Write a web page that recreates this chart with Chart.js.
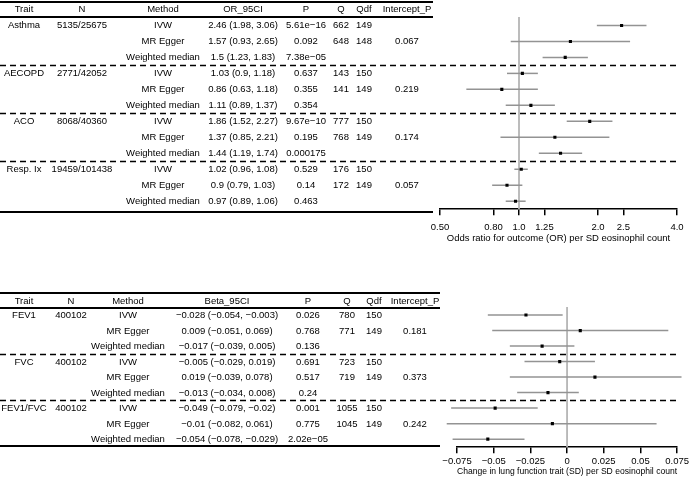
<!DOCTYPE html>
<html>
<head>
<meta charset="utf-8">
<script src="https://cdn.jsdelivr.net/npm/chart.js@4"></script>
<style>
  body { margin: 0; background: #fff; }
  #wrap { position: relative; width: 691px; height: 479px; overflow: hidden;
          font-family: "Liberation Sans", Arial, sans-serif; font-size: 9.5px; color: #000; }
  canvas { position: absolute; left: 0; }
  .c { position: absolute; white-space: nowrap; line-height: 1; transform: translate(-50%, -50%); }
  .rule { position: absolute; left: 0; background: #000; }
</style>
</head>
<body>
<div id="wrap">
  <canvas id="topChart" width="691" height="250" style="top:0"></canvas>
  <canvas id="botChart" width="691" height="229" style="top:250px"></canvas>
</div>
<script>
// ---- top panel: respiratory outcomes (OR) ----
const respTraits = ['Asthma', 'AECOPD', 'ACO', 'Resp. Ix']
const respN = ['5135/25675', '2771/42052', '8068/40360', '19459/101438']
const methods = ['IVW', 'MR Egger', 'Weighted median']
const orEst = [2.46, 1.57, 1.5, 1.03, 0.86, 1.11, 1.86, 1.37, 1.44, 1.02, 0.9, 0.97]
const orLo = [1.98, 0.93, 1.23, 0.9, 0.63, 0.89, 1.52, 0.85, 1.19, 0.96, 0.79, 0.89]
const orHi = [3.06, 2.65, 1.83, 1.18, 1.18, 1.37, 2.27, 2.21, 1.74, 1.08, 1.03, 1.06]
const orP = ['5.61e\u221216', '0.092', '7.38e\u221205', '0.637', '0.355', '0.354',
             '9.67e\u221210', '0.195', '0.000175', '0.529', '0.14', '0.463']
const orQ = [662, 648, '', 143, 141, '', 777, 768, '', 176, 172, '']
const orQdf = [149, 148, '', 150, 149, '', 150, 149, '', 150, 149, '']
const orInt = ['', '0.067', '', '', '0.219', '', '', '0.174', '', '', '0.057', '']
const orTicks = [0.5, 0.8, 1.0, 1.25, 2.0, 2.5, 4.0]
const orTickLabels = ['0.50', '0.80', '1.0', '1.25', '2.0', '2.5', '4.0']

// ---- bottom panel: lung function (beta) ----
const lungTraits = ['FEV1', 'FVC', 'FEV1/FVC']
const lungN = ['400102', '400102', '400102']
const betaEst = [-0.028, 0.009, -0.017, -0.005, 0.019, -0.013, -0.049, -0.01, -0.054]
const betaLo = [-0.054, -0.051, -0.039, -0.029, -0.039, -0.034, -0.079, -0.082, -0.078]
const betaHi = [-0.003, 0.069, 0.005, 0.019, 0.078, 0.008, -0.02, 0.061, -0.029]
const betaP = ['0.026', '0.768', '0.136', '0.691', '0.517', '0.24', '0.001', '0.775', '2.02e\u221205']
const betaQ = [780, 771, '', 723, 719, '', 1055, 1045, '']
const betaQdf = [150, 149, '', 150, 149, '', 150, 149, '']
const betaInt = ['', '0.181', '', '', '0.373', '', '', '0.242', '']
const betaTicks = [-0.075, -0.05, -0.025, 0, 0.025, 0.05, 0.075]
const betaTickLabels = ['\u22120.075', '\u22120.05', '\u22120.025', '0', '0.025', '0.05', '0.075']

const FONT = { family: '"Liberation Sans", Arial, sans-serif', size: 9.5 }
const minus = s => String(s).replace(/-/g, '\u2212')

// CI whiskers, reference line and group separators drawn from the scales
const forestPlugin = {
  id: 'forest',
  beforeDatasetsDraw(chart, args, opts) {
    const { ctx, chartArea, scales: { x, y } } = chart
    ctx.save()
    ctx.strokeStyle = '#b5b5b5'
    ctx.lineWidth = 1.8
    const rx = x.getPixelForValue(opts.ref)
    ctx.beginPath(); ctx.moveTo(rx, chartArea.top); ctx.lineTo(rx, chartArea.bottom); ctx.stroke()
    ctx.strokeStyle = '#939393'
    ctx.lineWidth = 1.5
    opts.lo.forEach((lo, i) => {
      const yy = y.getPixelForValue(i)
      ctx.beginPath()
      ctx.moveTo(x.getPixelForValue(lo), yy)
      ctx.lineTo(x.getPixelForValue(opts.hi[i]), yy)
      ctx.stroke()
    })
    ctx.strokeStyle = '#000'
    ctx.lineWidth = 1.5
    ctx.setLineDash([6, 4])
    opts.seps.forEach(v => {
      const yy = Math.round(y.getPixelForValue(v)) + 0.5
      ctx.beginPath(); ctx.moveTo(0, yy); ctx.lineTo(chartArea.right, yy); ctx.stroke()
    })
    ctx.restore()
  }
}

function makeForest(id, o) {
  return new Chart(document.getElementById(id), {
    type: 'scatter',
    data: {
      datasets: [{
        data: o.est.map((v, i) => ({ x: v, y: i })),
        pointStyle: 'rect',
        pointRadius: 2.2,
        backgroundColor: '#000',
        borderWidth: 0
      }]
    },
    options: {
      responsive: false,
      animation: false,
      events: [],
      layout: { padding: o.padding },
      plugins: {
        legend: { display: false },
        tooltip: { enabled: false },
        forest: { ref: o.ref, lo: o.lo, hi: o.hi, seps: o.seps }
      },
      scales: {
        x: {
          type: o.type,
          min: o.min,
          max: o.max,
          afterBuildTicks: s => { s.ticks = o.ticks.map(v => ({ value: v })) },
          border: { display: true, color: '#000', width: 1.5 },
          grid: { drawOnChartArea: false, drawTicks: true, tickLength: 6, color: '#000', lineWidth: 1.5 },
          ticks: {
            color: '#000', font: FONT, padding: o.tickPad, maxRotation: 0, autoSkip: false,
            callback: (v, i) => o.tickLabels[i]
          },
          title: { display: true, text: o.title, color: '#000', font: FONT, padding: { top: o.titlePad, bottom: 0 } }
        },
        y: { type: 'linear', reverse: true, min: o.ymin, max: o.ymax, display: false }
      }
    },
    plugins: [forestPlugin]
  })
}

function buildTable(chart, top, cols, headers, rows, hy, rules, ruleW) {
  const wrap = document.getElementById('wrap')
  const put = (txt, x, y) => {
    if (txt === '' || txt === undefined) return
    const d = document.createElement('div')
    d.className = 'c'
    d.textContent = txt
    d.style.left = x + 'px'
    d.style.top = y + 'px'
    wrap.appendChild(d)
  }
  headers.forEach((h, j) => put(h, cols[j], hy))
  rows.forEach((r, i) => {
    const yy = top + chart.scales.y.getPixelForValue(i)
    r.forEach((t, j) => put(t, cols[j], yy))
  })
  rules.forEach(ry => {
    const d = document.createElement('div')
    d.className = 'rule'
    d.style.top = (ry - 1) + 'px'
    d.style.width = ruleW + 'px'
    d.style.height = '2px'
    wrap.appendChild(d)
  })
}

const topChart = makeForest('topChart', {
  type: 'logarithmic', min: 0.5, max: 4, ticks: orTicks, tickLabels: orTickLabels,
  est: orEst, lo: orLo, hi: orHi, ref: 1, seps: [2.5, 5.5, 8.5],
  ymin: -0.53, ymax: 11.5, tickPad: 6, titlePad: -6,
  padding: { left: 440, right: 14, top: 17, bottom: 6 },
  title: 'Odds ratio for outcome (OR) per SD eosinophil count'
})

const botChart = makeForest('botChart', {
  type: 'linear', min: -0.075, max: 0.075, ticks: betaTicks, tickLabels: betaTickLabels,
  est: betaEst, lo: betaLo, hi: betaHi, ref: 0, seps: [2.5, 5.5],
  ymin: -0.52, ymax: 8.52, tickPad: 2, titlePad: -3,
  padding: { left: 457, right: 12, top: 57, bottom: 2 },
  title: 'Change in lung function trait (SD) per SD eosinophil count'
})

const topRows = orEst.map((v, i) => {
  const g = Math.floor(i / 3), m = i % 3
  return [m === 0 ? respTraits[g] : '', m === 0 ? respN[g] : '', methods[m],
    `${orEst[i]} (${orLo[i]}, ${orHi[i]})`, orP[i], orQ[i], orQdf[i], orInt[i]]
})
buildTable(topChart, 0, [24, 82, 163, 243, 306, 341, 364, 407],
  ['Trait', 'N', 'Method', 'OR_95CI', 'P', 'Q', 'Qdf', 'Intercept_P'],
  topRows, 8.5, [1.5, 17, 211.5], 433)

const botRows = betaEst.map((v, i) => {
  const g = Math.floor(i / 3), m = i % 3
  return [m === 0 ? lungTraits[g] : '', m === 0 ? lungN[g] : '', methods[m],
    minus(`${betaEst[i]} (${betaLo[i]}, ${betaHi[i]})`), betaP[i], betaQ[i], betaQdf[i], betaInt[i]]
})
buildTable(botChart, 250, [24, 71, 128, 227, 308, 347, 374, 415],
  ['Trait', 'N', 'Method', 'Beta_95CI', 'P', 'Q', 'Qdf', 'Intercept_P'],
  botRows, 301, [293, 308, 445.5], 440)
</script>
</body>
</html>
